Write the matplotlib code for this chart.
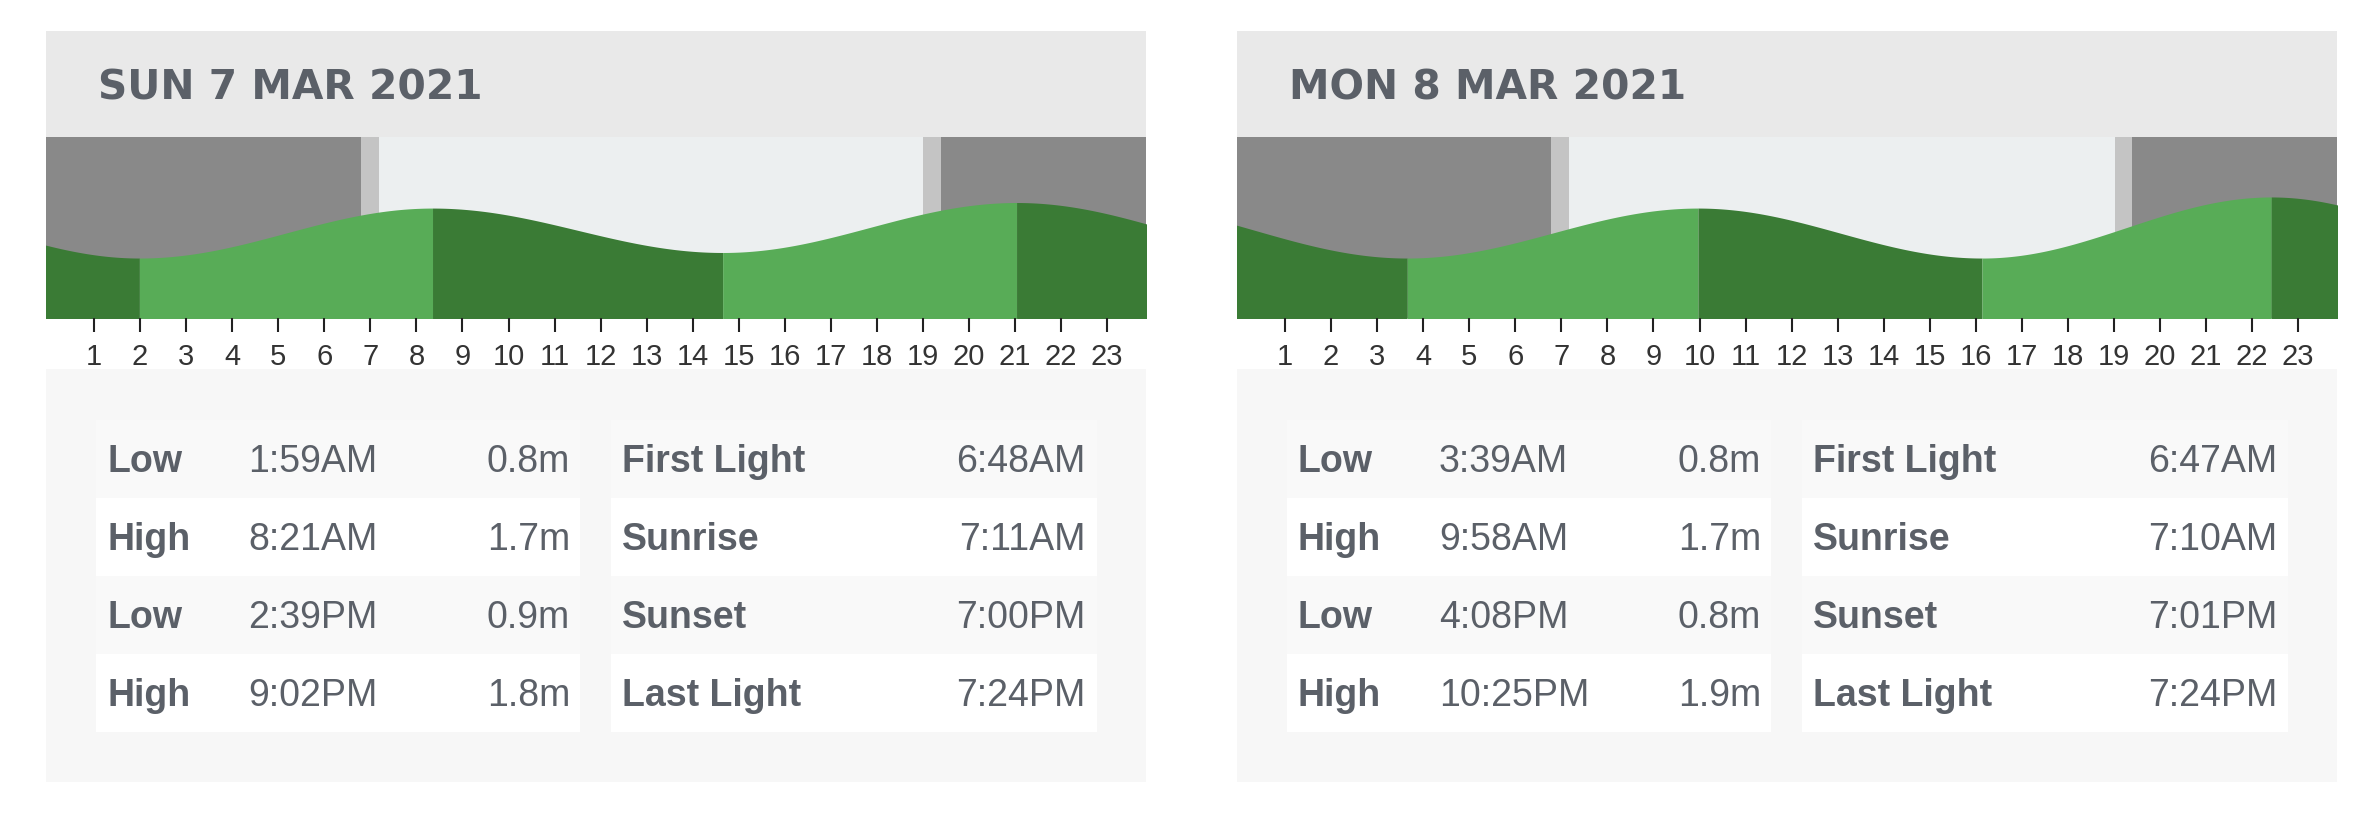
import matplotlib
matplotlib.use("Agg")
import matplotlib.pyplot as plt
from matplotlib.patches import Rectangle
from matplotlib import font_manager
import numpy as np

# ---------------- data ----------------
day_titles = ["SUN 7 MAR 2021", "MON 8 MAR 2021"]
tide_types = [["Low", "High", "Low", "High"], ["Low", "High", "Low", "High"]]
tide_times = [["1:59AM", "8:21AM", "2:39PM", "9:02PM"],
              ["3:39AM", "9:58AM", "4:08PM", "10:25PM"]]
tide_heights = [[0.8, 1.7, 0.9, 1.8], [0.8, 1.7, 0.8, 1.9]]
# estimated neighbouring extremes (hours relative to the day, height m)
prev_extreme = [(-4.0, 1.7), (-2.97, 1.8)]
next_extreme = [(27.65, 0.8), (28.8, 0.7)]
sun_labels = ["First Light", "Sunrise", "Sunset", "Last Light"]
sun_times = [["6:48AM", "7:11AM", "7:00PM", "7:24PM"],
             ["6:47AM", "7:10AM", "7:01PM", "7:24PM"]]
hour_ticks = list(range(1, 24))

# ---------------- style ----------------
W, H = 2364, 825
DPI = 100
C_HEADER = "#e9e9e9"
C_TABLE = "#f7f7f7"
C_ROW_ODD = "#f9f9f9"
C_ROW_EVEN = "#ffffff"
C_TEXT = "#5b6068"
C_NIGHT = "#898989"
C_TWI = "#c4c4c4"
C_DAY = "#eceff0"
C_RISE = "#58ac57"
C_FALL = "#3a7b35"

names = {f.name for f in font_manager.fontManager.ttflist}
tick_font = "Liberation Sans Narrow" if "Liberation Sans Narrow" in names else "Liberation Sans"


def to_hours(s):
    t, ampm = s[:-2], s[-2:]
    h, m = t.split(":")
    h = int(h) % 12
    if ampm == "PM":
        h += 12
    return h + int(m) / 60.0


fig = plt.figure(figsize=(W / DPI, H / DPI), dpi=DPI)
fig.patch.set_facecolor("white")
bg = fig.add_axes([0, 0, 1, 1])
bg.set_xlim(0, W)
bg.set_ylim(H, 0)
bg.axis("off")


def px_axes(x0, y0, x1, y1):
    return fig.add_axes([x0 / W, 1 - y1 / H, (x1 - x0) / W, (y1 - y0) / H])


panel_x = [46, 1237]
PW = 1100
for d in range(2):
    ox = panel_x[d]
    # header
    bg.add_patch(Rectangle((ox, 31), PW, 106, color=C_HEADER, lw=0))
    bg.text(ox + 52, 99, day_titles[d], fontsize=29.3, fontweight="bold",
            family="DejaVu Sans", color=C_TEXT, va="baseline", ha="left")
    # table background
    bg.add_patch(Rectangle((ox, 369), PW, 413, color=C_TABLE, lw=0))
    for r in range(4):
        top = 420 + 78 * r
        col = C_ROW_ODD if r % 2 == 0 else C_ROW_EVEN
        bg.add_patch(Rectangle((ox + 50, top), 484, 78, color=col, lw=0))
        bg.add_patch(Rectangle((ox + 565, top), 486, 78, color=col, lw=0))
        base = top + 52
        kw = dict(fontsize=27, family="Liberation Sans", color=C_TEXT, va="baseline")
        bg.text(ox + 61, base, tide_types[d][r], fontweight="bold", ha="left", **kw)
        bg.text(ox + 202, base, tide_times[d][r], ha="left", **kw)
        bg.text(ox + 524, base, f"{tide_heights[d][r]:.1f}m", ha="right", **kw)
        bg.text(ox + 576, base, sun_labels[r], fontweight="bold", ha="left", **kw)
        bg.text(ox + 1040, base, sun_times[d][r], ha="right", **kw)

    # tide chart
    ax = px_axes(ox, 137, ox + PW, 318)
    x0h = -2 / 46.05
    x1h = (PW - 2) / 46.05
    ax.set_xlim(x0h, x1h)
    ax.set_ylim(-0.28, 2.98)
    fl, sr, ss, ll = [to_hours(s) for s in sun_times[d]]
    ax.axvspan(x0h, fl, color=C_NIGHT, lw=0)
    ax.axvspan(fl, sr, color=C_TWI, lw=0)
    ax.axvspan(sr, ss, color=C_DAY, lw=0)
    ax.axvspan(ss, ll, color=C_TWI, lw=0)
    ax.axvspan(ll, x1h, color=C_NIGHT, lw=0)

    ext_t = [prev_extreme[d][0]] + [to_hours(s) for s in tide_times[d]] + [next_extreme[d][0]]
    ext_h = [prev_extreme[d][1]] + tide_heights[d] + [next_extreme[d][1]]
    for i in range(len(ext_t) - 1):
        ta, tb = ext_t[i], ext_t[i + 1]
        ha_, hb_ = ext_h[i], ext_h[i + 1]
        t = np.linspace(ta, tb, 200)
        f = (t - ta) / (tb - ta)
        y = ha_ + (hb_ - ha_) * (1 - np.cos(np.pi * f)) / 2
        col = C_RISE if hb_ > ha_ else C_FALL
        ax.fill_between(t, -1, y, color=col, lw=0)

    for s in ax.spines.values():
        s.set_visible(False)
    ax.set_yticks([])
    ax.set_xticks(hour_ticks)
    ax.set_xticklabels([str(h) for h in hour_ticks], family=tick_font,
                       fontsize=21, color="#333333")
    ax.tick_params(axis="x", direction="out", length=10, width=1.5,
                   color="#222222", pad=8)

fig.savefig("out.png", dpi=DPI, facecolor="white")
